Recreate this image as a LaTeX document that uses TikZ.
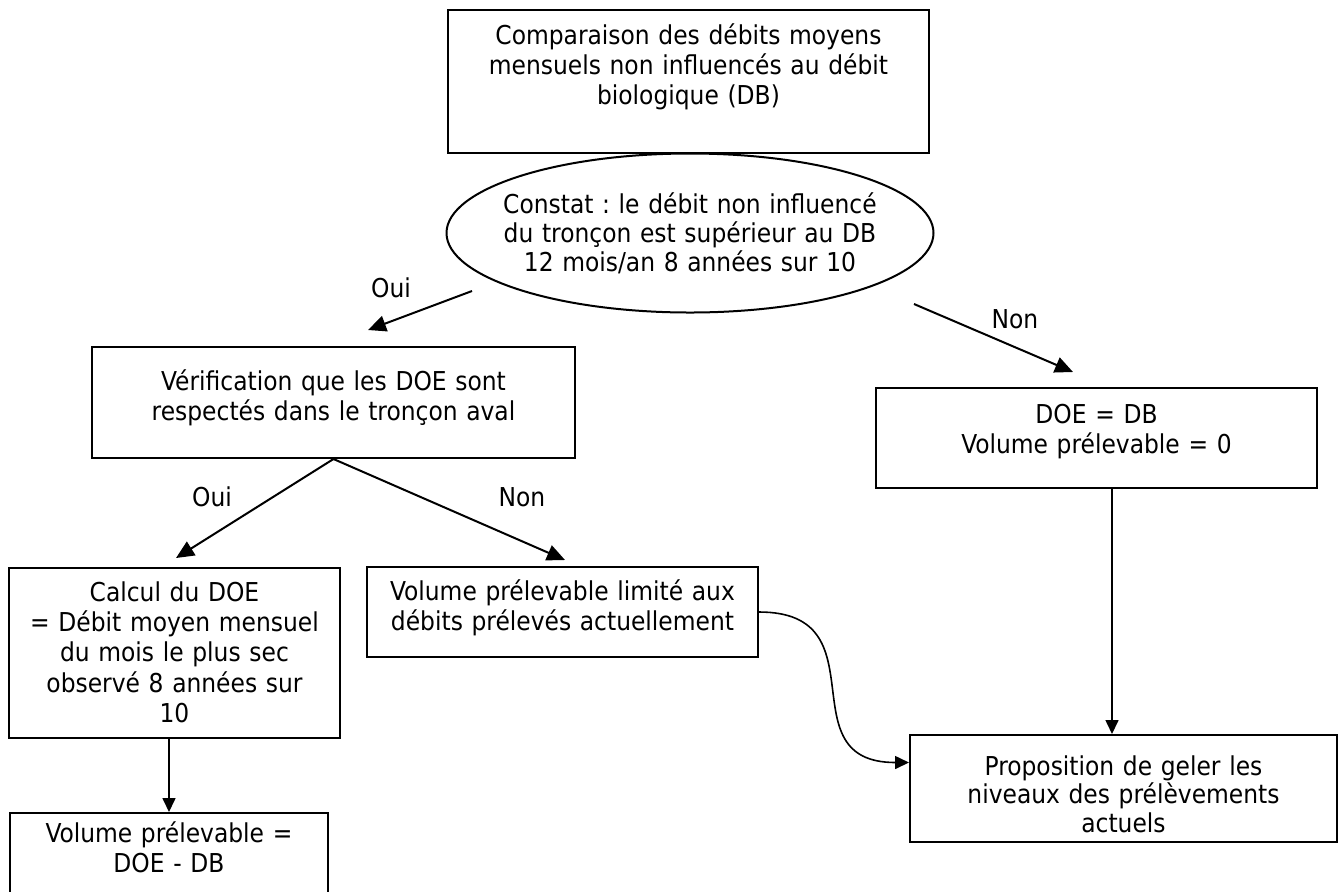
\documentclass[tikz,border=0pt]{standalone}
\usepackage{fontspec}
\setmainfont{DejaVu Sans Condensed}
\usetikzlibrary{shapes.geometric,arrows.meta}
\frenchspacing

\begin{document}
\begin{tikzpicture}[x=0.5pt,y=-0.5pt]
    \tikzstyle{every node}+=[inner sep=0pt, font=\fontsize{13}{15.2}\selectfont]
    \tikzstyle{box}=[draw=black, line width=1pt, rectangle, align=center, anchor=base]
    \tikzstyle{answer}=[anchor=center]
    \tikzstyle{link}=[black, line width=0.8pt, -{Triangle[length=7pt,width=6.5pt]}]
    \tikzstyle{branch}=[black, line width=1pt, -{Triangle[length=9pt,width=8pt]}]
    \useasboundingbox (0,0) rectangle (1344,891);
    % first question
    \node [box, text width=240.5pt, text height=17pt, text depth=54.5pt] (compare) at (688.5,44)
        {Comparaison des débits moyens\\mensuels non influencés au débit\\biologique (DB)};
    \node [draw=black, line width=1pt, ellipse, minimum width=243.5pt, minimum height=79.5pt] (constat) at (690,233) {};
    \node [align=center, anchor=base, text width=240pt, font=\fontsize{13}{14.5}\selectfont] (constattext) at (690,213)
        {Constat : le débit non influencé\\du tronçon est supérieur au DB\\12 mois/an 8 années sur 10};
    % answers of the first question
    \node [box, text width=241.5pt, text height=21.5pt, text depth=34pt] (check) at (333.5,390)
        {Vérification que les DOE sont\\respectés dans le tronçon aval};
    \node [box, text width=220.5pt, text height=17.5pt, text depth=32.5pt] (doe) at (1096.5,423)
        {DOE = DB\\Volume prélevable = 0};
    % answers of the second question
    \node [box, text width=165.5pt, text height=16.5pt, text depth=68.5pt] (calcul) at (174.5,601)
        {Calcul du DOE\\= Débit moyen mensuel\\du mois le plus sec\\observé 8 années sur\\10};
    \node [box, text width=195.5pt, text height=16.5pt, text depth=28.5pt] (limit) at (562.5,600)
        {Volume prélevable limité aux\\débits prélevés actuellement};
    \node [box, text width=159pt, text height=14.5pt, text depth=40pt] (volume) at (169,842)
        {Volume prélevable =\\DOE - DB};
    \node [box, text width=213.5pt, text height=20pt, text depth=33.5pt, font=\fontsize{13}{14.4}\selectfont] (freeze) at (1123.5,775)
        {Proposition de geler les\\niveaux des prélèvements\\actuels};
    % labels
    \node [answer] (oui1) at (391,288) {Oui};
    \node [answer] (non1) at (1015,319) {Non};
    \node [answer] (oui2) at (212,497) {Oui};
    \node [answer] (non2) at (522,497) {Non};
    % free ends of the arrows
    \coordinate (ouistart) at (472,291);
    \coordinate (ouiend) at (368,330);
    \coordinate (nonstart) at (914,304);
    \coordinate (nonend) at (1073,372);
    \coordinate (calculend) at (176,558);
    \coordinate (limitend) at (565,560);
    % arrows
    \draw [branch] (ouistart) -- (ouiend);
    \draw [branch] (nonstart) -- (nonend);
    \draw [branch] (check.south) -- (calculend);
    \draw [branch] (check.south) -- (limitend);
    \draw [link] (calcul.south -| volume.north) -- (volume.north);
    \draw [link] ([xshift=7.75pt]doe.south) -- ([xshift=-5.75pt]freeze.north);
    \draw [link] (limit.east) to [out=0, in=180, looseness=1.5] ([yshift=13pt]freeze.west);
\end{tikzpicture}
\end{document}
